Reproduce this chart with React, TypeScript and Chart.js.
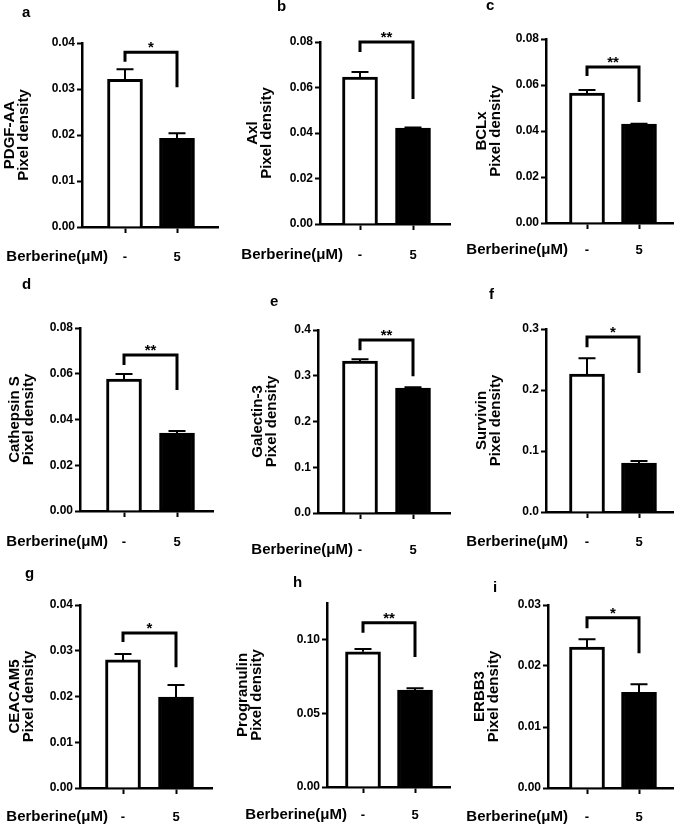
import React, { useEffect, useRef } from 'react';
import { Chart, registerables } from 'chart.js';

Chart.register(...registerables);

// ---------- data ----------
const panelLetters = ['a', 'b', 'c', 'd', 'e', 'f', 'g', 'h', 'i'];
const proteins = ['PDGF-AA', 'Axl', 'BCLx', 'Cathepsin S', 'Galectin-3', 'Survivin', 'CEACAM5', 'Progranulin', 'ERBB3'];
const categories = ['-', '5'];
const xAxisLabel = 'Berberine(\u03bcM)';
const yAxisLabel = 'Pixel density';

const controlMeans = [0.0321, 0.0646, 0.0565, 0.0577, 0.332, 0.226, 0.028, 0.0918, 0.0231];
const controlErr = [0.0022, 0.0022, 0.0013, 0.0022, 0.004, 0.026, 0.0013, 0.002, 0.0013];
const berberineMeans = [0.0193, 0.0422, 0.043, 0.0341, 0.273, 0.0803, 0.0199, 0.0658, 0.0157];
const berberineErr = [0.0011, 0.0002, 0.0002, 0.0009, 0.002, 0.0033, 0.0026, 0.0013, 0.0013];
const significance = ['*', '**', '**', '**', '**', '*', '*', '**', '*'];

const yMax = [0.04, 0.08, 0.08, 0.08, 0.4, 0.3, 0.04, 0.125, 0.03];
const yStep = [0.01, 0.02, 0.02, 0.02, 0.1, 0.1, 0.01, 0.05, 0.01];
const yDecimals = [2, 2, 2, 2, 1, 1, 2, 2, 2];

const bracketTop = [0.038, 0.08, 0.0678, 0.0682, 0.378, 0.287, 0.0339, 0.1116, 0.0279];
const bracketLeftEnd = [0.0359, 0.0756, 0.0639, 0.0638, 0.356, 0.27, 0.0319, 0.1048, 0.0262];
const bracketRightEnd = [0.0304, 0.0549, 0.0526, 0.0529, 0.299, 0.228, 0.0264, 0.0884, 0.0221];

// ---------- layout (page pixels) ----------
type Lay = {
  left: number; top: number; height: number;
  axisX: number; xRight: number; yTop: number; yBottom: number;
  c1: number; c2: number; titleX: number;
  letterX: number; letterBase: number; berbRight: number; labelY: number;
};
const layouts: Lay[] = [
  { left: 0, top: 0, height: 270, axisX: 82, xRight: 218, yTop: 43, yBottom: 227, c1: 125, c2: 177, titleX: 10, letterX: 22, letterBase: 17, berbRight: 108, labelY: 257 },
  { left: 222, top: 0, height: 270, axisX: 320, xRight: 450, yTop: 42, yBottom: 224, c1: 360, c2: 413, titleX: 253, letterX: 277, letterBase: 11, berbRight: 343, labelY: 255 },
  { left: 446, top: 0, height: 270, axisX: 546, xRight: 673, yTop: 39, yBottom: 223, c1: 587, c2: 639, titleX: 482, letterX: 486, letterBase: 10, berbRight: 568, labelY: 250 },
  { left: 0, top: 270, height: 290, axisX: 80, xRight: 213, yTop: 328, yBottom: 511, c1: 124, c2: 177, titleX: 15, letterX: 22, letterBase: 289, berbRight: 108, labelY: 542 },
  { left: 222, top: 270, height: 290, axisX: 318, xRight: 450, yTop: 330, yBottom: 513, c1: 360, c2: 413, titleX: 258, letterX: 270, letterBase: 306, berbRight: 353, labelY: 550 },
  { left: 446, top: 270, height: 290, axisX: 546, xRight: 673, yTop: 329, yBottom: 512, c1: 587, c2: 639, titleX: 482, letterX: 489, letterBase: 299, berbRight: 568, labelY: 542 },
  { left: 0, top: 560, height: 267, axisX: 80, xRight: 212, yTop: 605, yBottom: 788, c1: 123, c2: 176, titleX: 15, letterX: 25, letterBase: 578, berbRight: 108, labelY: 817 },
  { left: 222, top: 560, height: 267, axisX: 327, xRight: 450, yTop: 603, yBottom: 787, c1: 363, c2: 415, titleX: 243, letterX: 293, letterBase: 587, berbRight: 347, labelY: 815 },
  { left: 446, top: 560, height: 267, axisX: 548, xRight: 673, yTop: 605, yBottom: 788, c1: 587, c2: 639, titleX: 480, letterX: 493, letterBase: 592, berbRight: 568, labelY: 817 },
];

const FONT = "'Liberation Sans', Arial, Helvetica, sans-serif";

function Panel({ idx }: { idx: number }) {
  const ref = useRef<HTMLCanvasElement | null>(null);
  const L = layouts[idx];
  const width = L.xRight - L.left + 6;

  useEffect(() => {
    if (!ref.current) return;
    const titleLH = 14;
    const xTickLen = 6;
    const xTickSize = 13;
    const xH = L.labelY + 12 - L.yBottom;
    const yW = L.axisX - L.left;
    const unit = L.c2 - L.c1;
    const xMin = 1 - (L.c1 - L.axisX) / unit;
    const xMax = 2 + (L.xRight - L.c2) / unit;
    const padding = {
      top: L.yTop - L.top,
      right: L.left + width - L.xRight,
      bottom: L.top + L.height - L.yBottom - xH,
      left: 0,
    };
    const xTickPad = L.labelY - L.yBottom - xTickLen - (xTickSize * 1.2) / 2;

    const annot = {
      id: 'annot',
      afterDraw(chart: any) {
        const { ctx } = chart;
        const xs = chart.scales.x;
        const ys = chart.scales.y;
        ctx.save();
        ctx.strokeStyle = '#000';
        ctx.fillStyle = '#000';
        // error bars (upper half)
        const means = [controlMeans[idx], berberineMeans[idx]];
        const errs = [controlErr[idx], berberineErr[idx]];
        ctx.lineWidth = 2;
        means.forEach((m, k) => {
          const px = xs.getPixelForValue(k + 1);
          const y0 = ys.getPixelForValue(m);
          const y1 = ys.getPixelForValue(m + errs[k]);
          ctx.beginPath();
          ctx.moveTo(px, y0);
          ctx.lineTo(px, y1);
          ctx.moveTo(px - 8.5, y1);
          ctx.lineTo(px + 8.5, y1);
          ctx.stroke();
        });
        // significance bracket
        const x1 = xs.getPixelForValue(1);
        const x2 = xs.getPixelForValue(2);
        const yH = ys.getPixelForValue(bracketTop[idx]);
        const yL = ys.getPixelForValue(bracketLeftEnd[idx]);
        const yR = ys.getPixelForValue(bracketRightEnd[idx]);
        ctx.lineWidth = 3;
        ctx.lineJoin = 'miter';
        ctx.beginPath();
        ctx.moveTo(x1, yL);
        ctx.lineTo(x1, yH);
        ctx.lineTo(x2, yH);
        ctx.lineTo(x2, yR);
        ctx.stroke();
        ctx.font = `bold 15px ${FONT}`;
        ctx.textAlign = 'center';
        ctx.textBaseline = 'alphabetic';
        ctx.fillText(significance[idx], (x1 + x2) / 2, yH);
        // panel letter
        ctx.textAlign = 'left';
        ctx.fillText(panelLetters[idx], L.letterX - L.left, L.letterBase - L.top);
        // x-axis label
        ctx.textAlign = 'right';
        ctx.textBaseline = 'middle';
        ctx.fillText(xAxisLabel, L.berbRight - L.left, L.labelY - L.top);
        ctx.restore();
      },
    };

    const chart = new Chart(ref.current, {
      type: 'bar',
      data: {
        datasets: [
          {
            data: [
              { x: 1, y: controlMeans[idx] },
              { x: 2, y: berberineMeans[idx] },
            ],
            backgroundColor: ['#ffffff', '#000000'],
            borderColor: '#000000',
            borderWidth: 3,
            barThickness: 35,
          },
        ],
      },
      options: {
        responsive: false,
        animation: false,
        devicePixelRatio: 1,
        layout: { padding },
        plugins: { legend: { display: false }, tooltip: { enabled: false }, title: { display: false } },
        scales: {
          x: {
            type: 'linear',
            min: xMin,
            max: xMax,
            offset: false,
            bounds: 'data',
            z: 1,
            afterBuildTicks: (s: any) => {
              s.ticks = [{ value: 1 }, { value: 2 }];
            },
            afterFit: (s: any) => {
              s.height = xH;
            },
            ticks: {
              autoSkip: false,
              maxRotation: 0,
              color: '#000',
              padding: xTickPad,
              font: { family: FONT, size: xTickSize, weight: 'bold' },
              callback: (v: any) => (v === 1 ? categories[0] : v === 2 ? categories[1] : ''),
            },
            grid: { offset: false, drawOnChartArea: false, tickLength: xTickLen, tickWidth: 2, tickColor: '#000' },
            border: { display: true, color: '#000', width: 2.5 },
          },
          y: {
            type: 'linear',
            min: 0,
            max: yMax[idx],
            z: 1,
            afterFit: (s: any) => {
              s.width = yW;
            },
            ticks: {
              stepSize: yStep[idx],
              includeBounds: false,
              color: '#000',
              padding: 2,
              font: { family: FONT, size: 12, weight: 'bold' },
              callback: (v: any) => Number(v).toFixed(yDecimals[idx]),
            },
            grid: { drawOnChartArea: false, tickLength: 5, tickWidth: 2, tickColor: '#000' },
            border: { display: true, color: '#000', width: 2.5 },
            title: {
              display: true,
              text: [proteins[idx], yAxisLabel],
              color: '#000',
              font: { family: FONT, size: 15, weight: 'bold', lineHeight: titleLH / 15 },
              padding: { top: Math.max(0, L.titleX - titleLH / 2 - L.left), bottom: 0 },
            },
          },
        },
      },
      plugins: [annot],
    } as any);
    return () => chart.destroy();
  }, [idx]);

  return (
    <canvas
      ref={ref}
      width={width}
      height={L.height}
      style={{ position: 'absolute', left: L.left, top: L.top, width, height: L.height }}
    />
  );
}

export default function App() {
  return (
    <div style={{ position: 'absolute', left: 0, top: 0, width: 676, height: 827, background: '#fff', overflow: 'hidden' }}>
      {layouts.map((_, i) => (
        <Panel key={i} idx={i} />
      ))}
    </div>
  );
}
